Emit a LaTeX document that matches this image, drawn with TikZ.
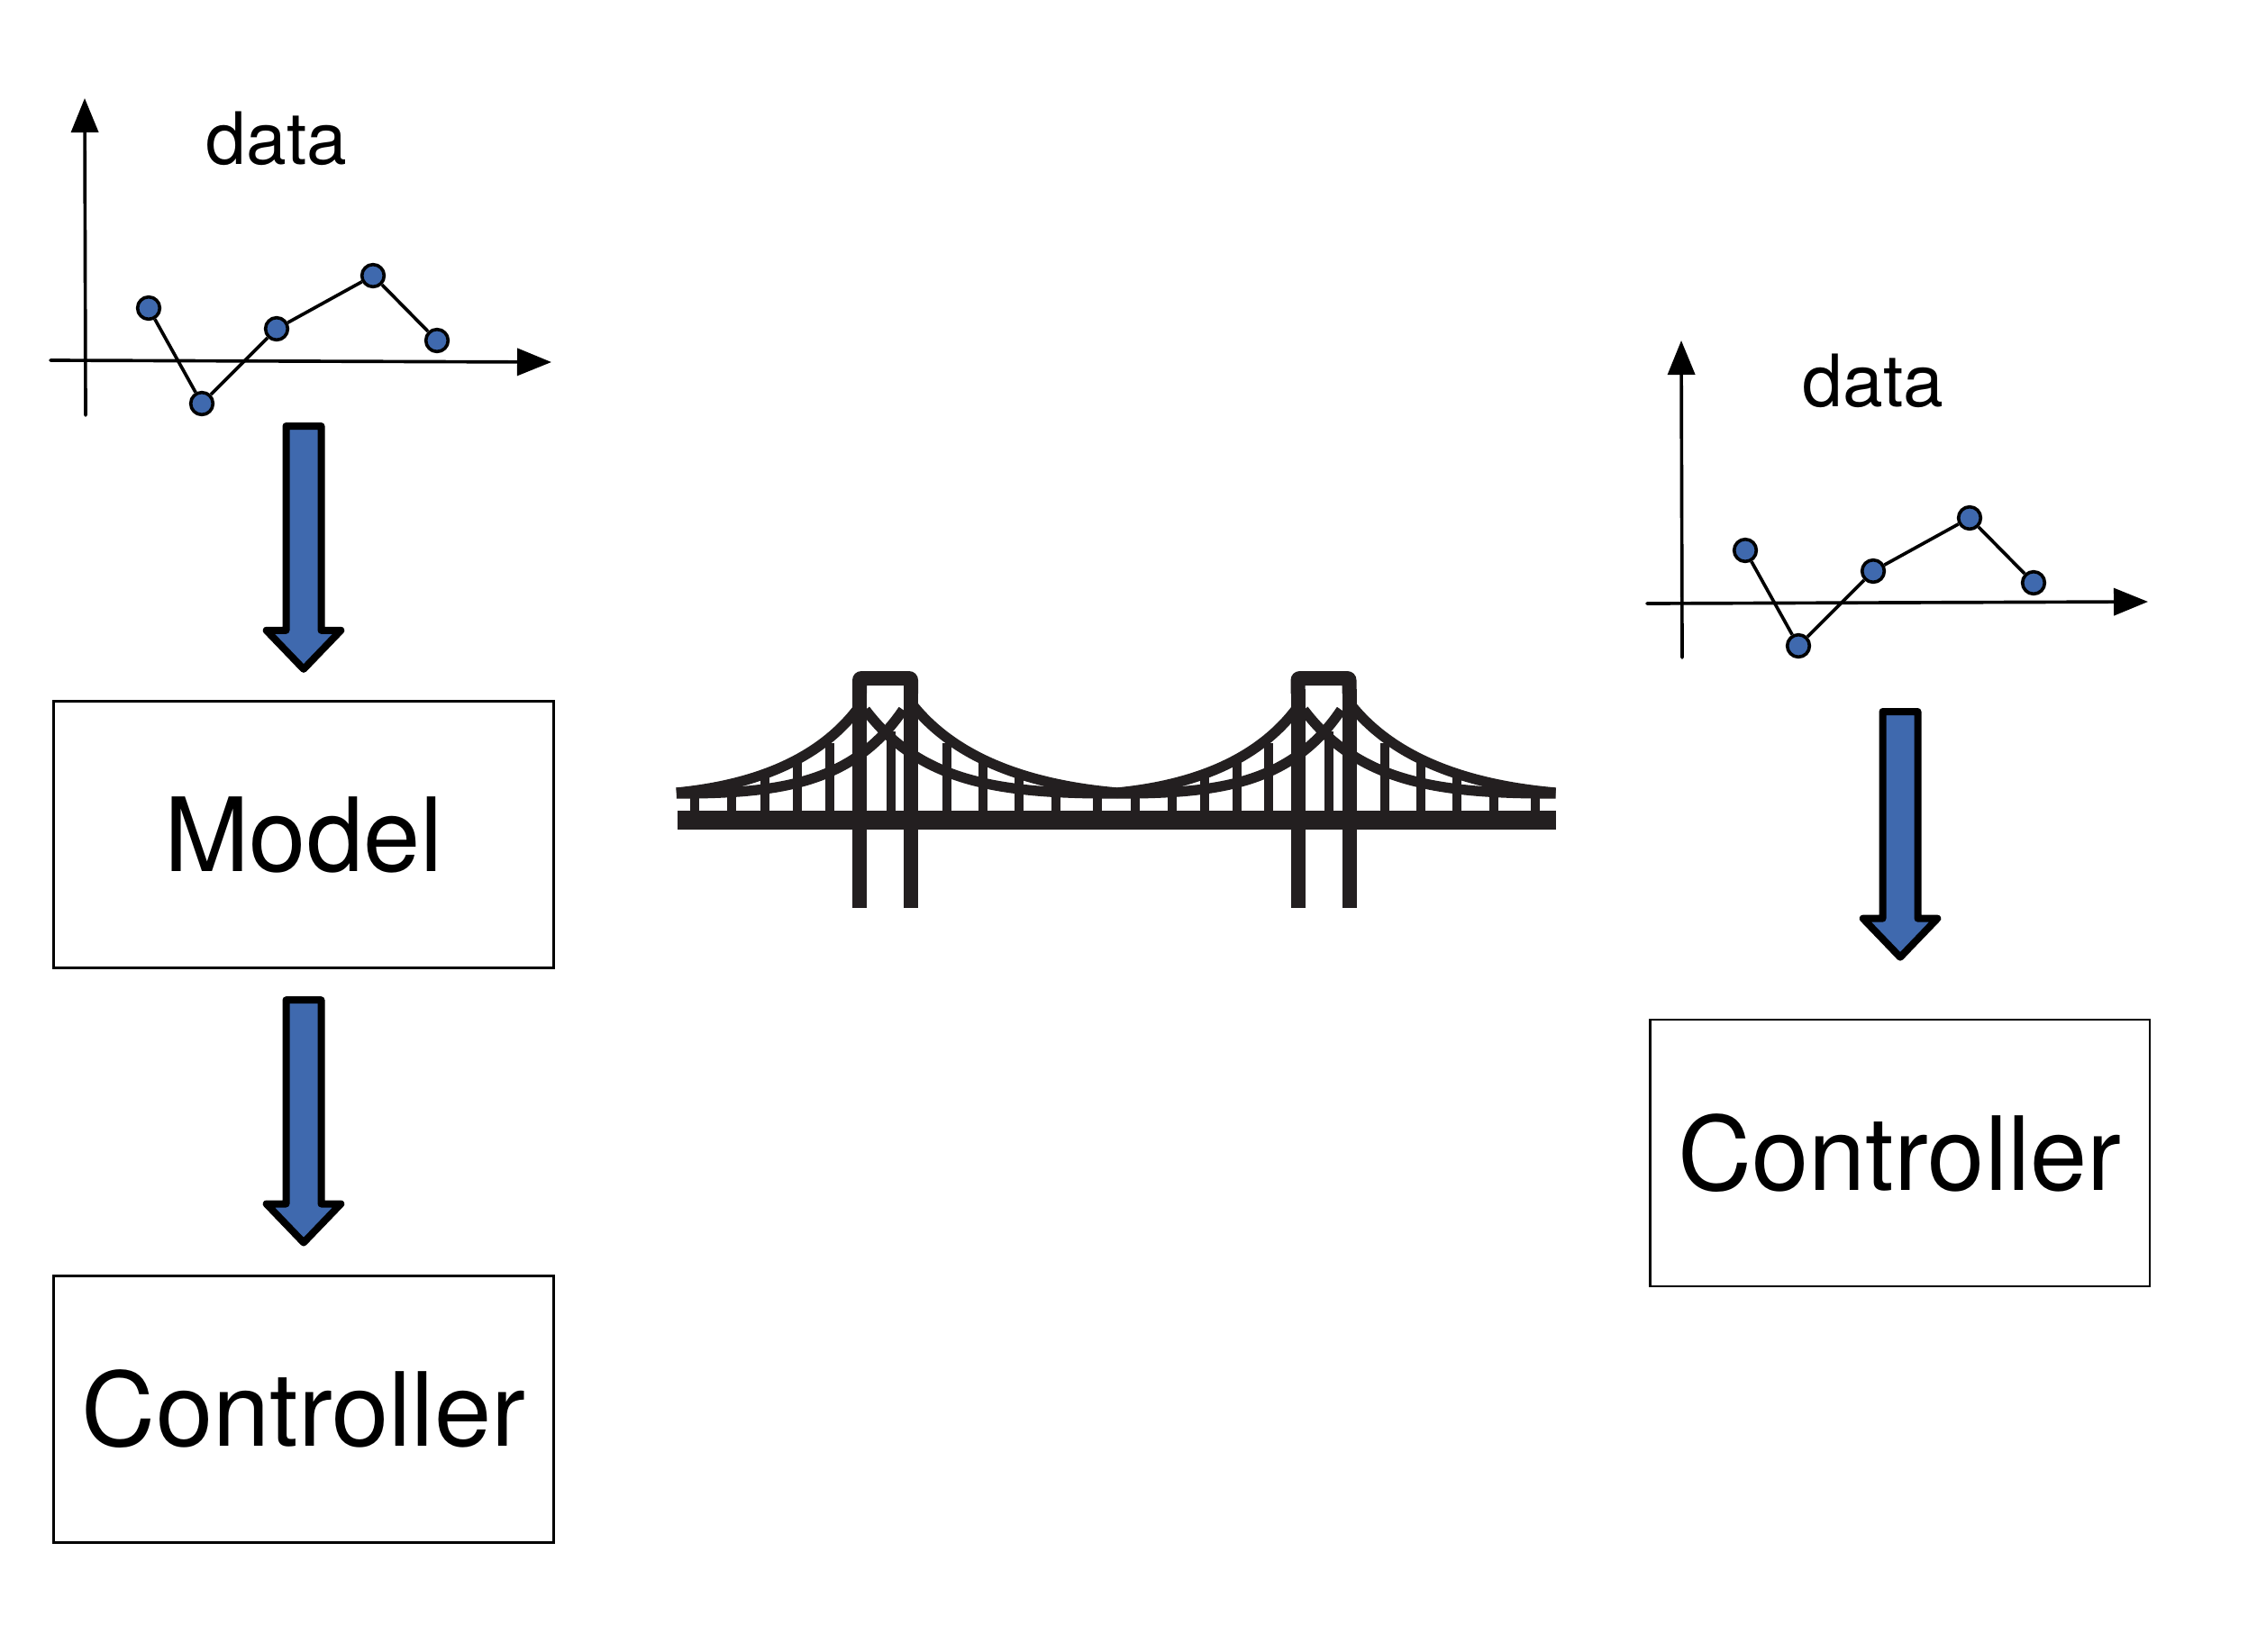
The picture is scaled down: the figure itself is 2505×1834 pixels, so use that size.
\documentclass[tikz,border=0pt]{standalone}
\usepackage{fontspec}
\setmainfont{TeX Gyre Heros}
\usetikzlibrary{arrows.meta,calc}
\definecolor{arrowblue}{HTML}{3F69AE}
\definecolor{bridgedark}{HTML}{231F20}
\tikzset{
    ctrlbox/.style={draw, line width=0.8pt, outer sep=0pt, minimum width=166.4pt, minimum height=88.8pt, font=\fontsize{34.1}{40}\selectfont},
    datalabel/.style={anchor=base, inner sep=0pt, font=\fontsize{24.1}{28}\selectfont},
    datapoint/.style={circle, draw, fill=arrowblue, line width=1.1pt, inner sep=0pt, minimum size=7.4pt},
    axisline/.style={line width=1.1pt, line cap=round, -{Triangle[length=11.4pt,width=9pt]}},
    blockarrow/.style={draw, fill=arrowblue, line width=2.4pt, line join=round,
        to path={let \p1=(\tikztostart), \p2=(\tikztotarget) in
            (\x1-5.85pt,\y1) -- (\x1+5.85pt,\y1) -- (\x1+5.85pt,\y2+12.9pt) -- (\x1+12.4pt,\y2+12.9pt)
            -- (\x1,\y2) -- (\x1-12.4pt,\y2+12.9pt) -- (\x1-5.85pt,\y2+12.9pt) -- cycle}},
    mainhanger/.style={bridgedark, line width=3pt},
    cable/.style={bridgedark, line width=3.4pt}
}

\begin{document}
\begin{tikzpicture}[x=0.3pt, y=-0.3pt, node distance=191.4pt]
    \useasboundingbox (0,0) rectangle (2505,1834);

    % Boxes
    \node[ctrlbox] (Model) at (337,926.5) {Model};
    \node[ctrlbox] (LeftController) [below of=Model] {Controller};
    \node[ctrlbox] (RightController) at (2108.5,1280) {Controller};

    % Data plots
    \foreach \g/\dx/\dy/\ly/\ry in {L/0/0/400/402, R/1772/269/401/399} {
        \begin{scope}[shift={(\dx,\dy)}]
            \node[datalabel] (\g-label) at (307,182) {data};
            \coordinate (\g-xstart) at (56,\ly);
            \coordinate (\g-xend) at (612,\ry);
            \coordinate (\g-ystart) at (95,461);
            \coordinate (\g-yend) at (94,109);
            \draw[axisline] (\g-xstart) -- (\g-xend);
            \draw[axisline] (\g-ystart) -- (\g-yend);
            \node[datapoint] (\g-a) at (165,342) {};
            \node[datapoint] (\g-b) at (224,448) {};
            \node[datapoint] (\g-c) at (307,365) {};
            \node[datapoint] (\g-d) at (414,306) {};
            \node[datapoint] (\g-e) at (485,378) {};
            \draw[line width=1.1pt] (\g-a) -- (\g-b) -- (\g-c) -- (\g-d) -- (\g-e);
        \end{scope}
    }

    % Arrows
    \coordinate (LeftTop) at (337,473);
    \coordinate (RightTop) at (2109,790);
    \draw[blockarrow] (LeftTop) to ([yshift=10.7pt]Model.north);
    \draw[blockarrow] ([yshift=-10.7pt]Model.south) to ([yshift=11.1pt]LeftController.north);
    \draw[blockarrow] (RightTop) to ([yshift=20.8pt]RightController.north);

    % Bridge
    \fill[bridgedark] (752,900) rectangle (1727,921);
    \foreach \cx/\sx in {982.5/1, 982.5/-0.9, 1469/1, 1469/-0.89} {
        \begin{scope}[shift={(\cx,0)}, xscale=\sx]
            \draw[cable] (30,782) .. controls (80,845) and (165,872) .. (257.5,880);
            \draw[cable] (-22,788) .. controls (40,870) and (130,881) .. (257.5,881);
            \foreach \hx/\hy in {68/825, 108/846, 148/862, 189/874, 235/878}
                \draw[mainhanger] (\hx,\hy) -- (\hx,900);
        \end{scope}
    }
    \foreach \cx in {982.5,1469} {
        \begin{scope}[shift={(\cx,0)}]
            \fill[bridgedark] (-36.5,1008) rectangle (-20.5,765);
            \fill[bridgedark] (20.5,1008) rectangle (36.5,765);
            \fill[bridgedark] (-36.5,770) [rounded corners=3pt] -- (-36.5,745) -- (36.5,745) [sharp corners] -- (36.5,770)
                -- (20.5,770) -- (20.5,761) -- (-20.5,761) -- (-20.5,770) -- cycle;
            \draw[mainhanger] (6,812) -- (6,900);
        \end{scope}
    }
\end{tikzpicture}
\end{document}
